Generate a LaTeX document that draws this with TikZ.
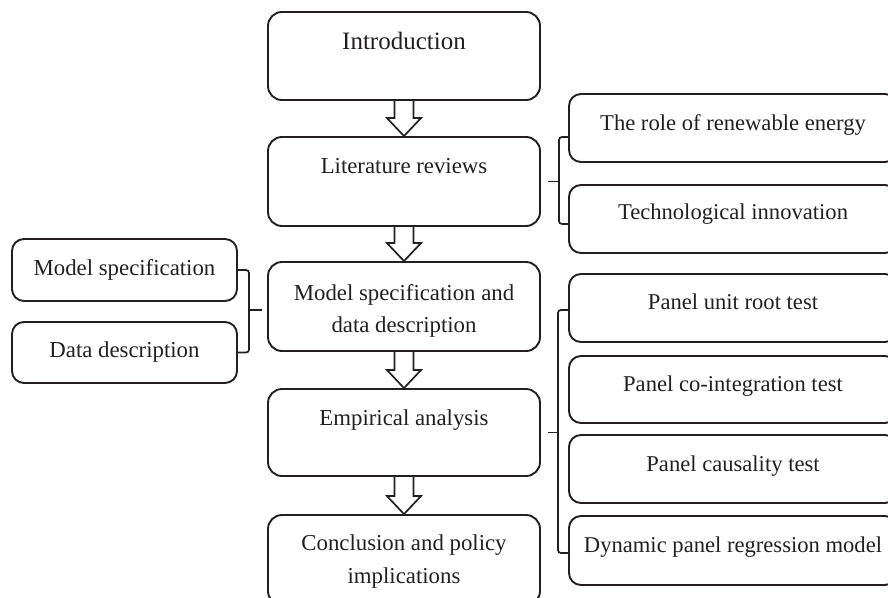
\documentclass[tikz,border=0pt]{standalone}
\usepackage{fontspec}
\setmainfont{Liberation Serif}
\usetikzlibrary{calc}
\definecolor{lc}{HTML}{231F20}
\newcommand\hollowarrow[2]{%
  \draw[blockarr] ($(#1.south)+(-9.5,0)$) -- ($(#2.north)+(-9.5,-18)$) -- ($(#2.north)+(-17,-18)$) -- (#2.north) -- ($(#2.north)+(17,-18)$) -- ($(#2.north)+(9.5,-18)$) -- ($(#1.south)+(9.5,0)$);}
\begin{document}
\begin{tikzpicture}[x=1pt,y=-1pt,
  box/.style={draw=lc, line width=1.9pt, rounded corners=14pt, inner sep=0pt},
  sidebox/.style={box, rounded corners=12pt},
  txt/.style={text=lc, inner sep=0pt, anchor=base, font=\fontsize{22.8}{32}\selectfont},
  rtxt/.style={txt, font=\fontsize{22.6}{30}\selectfont},
  brace/.style={draw=lc, line width=1.7pt, rounded corners=3pt},
  blockarr/.style={draw=lc, line width=1.7pt, line join=miter}]
\useasboundingbox (0,0) rectangle (888,597);
% centre column
\node[box, minimum width=272pt, minimum height=88pt] (intro) at (404,56) {};
\node[box, minimum width=272pt, minimum height=89pt] (lit) at (404,181.5) {};
\node[box, minimum width=272pt, minimum height=89pt] (model) at (404,306.5) {};
\node[box, minimum width=272pt, minimum height=87pt] (emp) at (404,432.5) {};
\node[box, minimum width=272pt, minimum height=90pt] (concl) at (404,560) {};
% left column
\node[sidebox, minimum width=225pt, minimum height=62pt] (ms) at (124.5,270) {};
\node[sidebox, minimum width=225pt, minimum height=61pt] (dd) at (124.5,352.5) {};
% right column
\node[sidebox, minimum width=328pt, minimum height=68pt] (role) at (733,128) {};
\node[sidebox, minimum width=328pt, minimum height=68pt] (tech) at (733,219) {};
\node[sidebox, minimum width=328pt, minimum height=68pt] (unit) at (733,308) {};
\node[sidebox, minimum width=328pt, minimum height=67pt] (coint) at (733,389.5) {};
\node[sidebox, minimum width=328pt, minimum height=68pt] (caus) at (733,469) {};
\node[sidebox, minimum width=328pt, minimum height=69pt] (dyn) at (733,550.5) {};
% texts
\node[txt, font=\fontsize{25}{30}\selectfont] (tintro) at (404,49) {Introduction};
\node[txt] (tlit) at (404,173) {Literature reviews};
\node[txt] (tmodel) at (404,300) {\begin{tabular}[t]{@{}c@{}}Model specification and\\data description\end{tabular}};
\node[txt] (temp) at (404,425) {Empirical analysis};
\node[txt, font=\fontsize{22.8}{33}\selectfont] (tconcl) at (404,550) {\begin{tabular}[t]{@{}c@{}}Conclusion and policy\\implications\end{tabular}};
\node[txt] (tms) at (124.5,275) {Model specification};
\node[txt] (tdd) at (124.5,357) {Data description};
\node[rtxt] (trole) at (733,130) {The role of renewable energy};
\node[rtxt] (ttech) at (733,219) {Technological innovation};
\node[rtxt] (tunit) at (733,309) {Panel unit root test};
\node[rtxt] (tcoint) at (733,391) {Panel co-integration test};
\node[rtxt] (tcaus) at (733,471) {Panel causality test};
\node[rtxt] (tdyn) at (733,552) {Dynamic panel regression model};
% block arrows
\hollowarrow{intro}{lit}
\hollowarrow{lit}{model}
\hollowarrow{model}{emp}
\hollowarrow{emp}{concl}
% braces
\coordinate (rb1) at ($(lit.east)+(18,0)$);
\draw[brace] ($(role.west)+(0,9)$) -| (rb1) |- ($(tech.west)+(0,5)$);
\draw[brace] ($(lit.east)+(7,0)$) -- (rb1);
\coordinate (rb2) at ($(emp.east)+(17,0)$);
\draw[brace] ($(unit.west)+(0,2)$) -| (rb2) |- ($(dyn.west)+(0,2.5)$);
\draw[brace] ($(emp.east)+(7,0)$) -- (rb2);
\coordinate (lb) at ($(model.west)+(-18,3.5)$);
\draw[brace] (ms.east) -| (lb) |- (dd.east);
\draw[brace] (lb) -- ($(model.west)+(-5,3.5)$);
\end{tikzpicture}
\end{document}
